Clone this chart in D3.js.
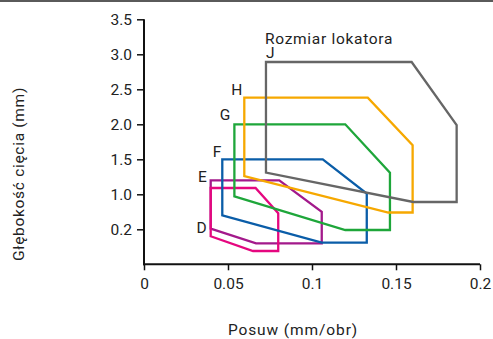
<!DOCTYPE html>
<html>
<head>
<meta charset="utf-8">
<script src="https://cdn.jsdelivr.net/npm/d3@7"></script>
<style>
  html, body { margin: 0; padding: 0; background: #fff; }
  svg { display: block; font-family: Roboto, "Noto Sans", sans-serif; }
</style>
</head>
<body>
<svg id="chart" width="493" height="339"></svg>
<script>
// Locator sizes and their working ranges: feed (mm/rev) vs depth of cut (mm)
const locators = ["E", "D", "F", "G", "H", "J"];
const feedE = [0.0397, 0.0805, 0.1058, 0.1058, 0.0667, 0.0397];
const depthE = [1.20, 1.20, 0.75, 0.30, 0.30, 0.51];
const feedD = [0.0397, 0.0664, 0.0799, 0.0799, 0.0649, 0.0397];
const depthD = [1.09, 1.09, 0.73, 0.19, 0.19, 0.40];
const feedF = [0.0466, 0.1064, 0.1326, 0.1326, 0.1058, 0.0466];
const depthF = [1.50, 1.50, 1.01, 0.31, 0.31, 0.70];
const feedG = [0.0538, 0.1198, 0.1464, 0.1464, 0.1198, 0.0538];
const depthG = [2.00, 2.00, 1.31, 0.49, 0.49, 0.97];
const feedH = [0.0597, 0.1332, 0.1599, 0.1599, 0.1454, 0.0597];
const depthH = [2.38, 2.38, 1.70, 0.74, 0.74, 1.26];
const feedJ = [0.0726, 0.1593, 0.1861, 0.1861, 0.1603, 0.0726];
const depthJ = [2.89, 2.89, 1.99, 0.89, 0.89, 1.31];

const xTickValues = [0, 0.05, 0.1, 0.15, 0.2];
const xTickLabels = ["0", "0.05", "0.1", "0.15", "0.2"];
const yTickValues = [0.5, 1.0, 1.5, 2.0, 2.5, 3.0, 3.5];
const yTickLabels = ["0.2", "1.0", "1.5", "2.0", "2.5", "3.0", "3.5"];

const svg = d3.select("#chart");
const FONT = 15.5;

const x = d3.scaleLinear().domain([0, 0.2]).range([144, 480]);
const y = d3.scaleLinear().domain([0, 3.5]).range([264.3, 19.3]);

// thin rule across the top of the figure
svg.append("line")
  .attr("x1", 0).attr("x2", 493).attr("y1", 1).attr("y2", 1)
  .attr("stroke", "#5a5a5a").attr("stroke-width", 2);

const series = {
  E: { feed: feedE, depth: depthE, color: "#a3198b", anchor: 0, dx: -4, dy: 2 },
  D: { feed: feedD, depth: depthD, color: "#e5077f", anchor: 5, dx: -4, dy: -3 },
  F: { feed: feedF, depth: depthF, color: "#0a5da8", anchor: 0, dx: -1, dy: -2 },
  G: { feed: feedG, depth: depthG, color: "#1ea63a", anchor: 0, dx: -4, dy: -4 },
  H: { feed: feedH, depth: depthH, color: "#f6a800", anchor: 0, dx: -2, dy: -3 },
  J: { feed: feedJ, depth: depthJ, color: "#666666", anchor: 0, dx: 0, dy: -4, start: true }
};

const line = d3.line().x(d => x(d[0])).y(d => y(d[1])).curve(d3.curveLinearClosed);

locators.forEach(k => {
  const s = series[k];
  const pts = s.feed.map((f, i) => [f, s.depth[i]]);
  svg.append("path")
    .attr("d", line(pts))
    .attr("fill", "none")
    .attr("stroke", s.color)
    .attr("stroke-width", 2.3)
    .attr("stroke-linejoin", "miter");
});

// size letters
locators.forEach(k => {
  const s = series[k];
  const i = s.anchor;
  svg.append("text")
    .attr("x", x(s.feed[i]) + s.dx)
    .attr("y", y(s.depth[i]) + s.dy)
    .attr("text-anchor", s.start ? "start" : "end")
    .attr("font-size", FONT)
    .attr("fill", "#222")
    .text(k);
});

svg.append("text")
  .attr("x", 265).attr("y", 44)
  .attr("font-size", FONT)
  .attr("letter-spacing", 0.7)
  .attr("fill", "#222")
  .text("Rozmiar lokatora");

// axes
const xAxis = d3.axisBottom(x)
  .tickValues(xTickValues)
  .tickFormat((d, i) => xTickLabels[i])
  .tickSize(6).tickSizeOuter(0).tickPadding(8);
const yAxis = d3.axisLeft(y)
  .tickValues(yTickValues)
  .tickFormat((d, i) => yTickLabels[i])
  .tickSize(7).tickSizeOuter(0).tickPadding(5);

const gx = svg.append("g").attr("transform", `translate(0,${y(0)})`).call(xAxis);
const gy = svg.append("g").attr("transform", `translate(${x(0)},0)`).call(yAxis);

[gx, gy].forEach(g => {
  g.select(".domain").attr("stroke", "#111").attr("stroke-width", 2);
  g.selectAll(".tick line").attr("stroke", "#111").attr("stroke-width", 1.5);
  g.selectAll(".tick text")
    .attr("font-size", FONT)
    .attr("font-family", "Roboto, 'Noto Sans', sans-serif")
    .attr("fill", "#222");
});
// join the two axis lines at the origin corner
gy.select(".domain").attr("d", `M0,${y(3.5)}V${y(0) + 1}`);
gx.select(".domain").attr("d", `M${x(0) - 1},0H${x(0.2)}`);

svg.append("text")
  .attr("x", 293).attr("y", 335)
  .attr("text-anchor", "middle")
  .attr("font-size", FONT)
  .attr("letter-spacing", 0.9)
  .attr("fill", "#222")
  .text("Posuw (mm/obr)");

svg.append("text")
  .attr("transform", "translate(24,174) rotate(-90)")
  .attr("text-anchor", "middle")
  .attr("font-size", FONT)
  .attr("letter-spacing", 0.7)
  .attr("fill", "#222")
  .text("Głębokość cięcia (mm)");
</script>
</body>
</html>
